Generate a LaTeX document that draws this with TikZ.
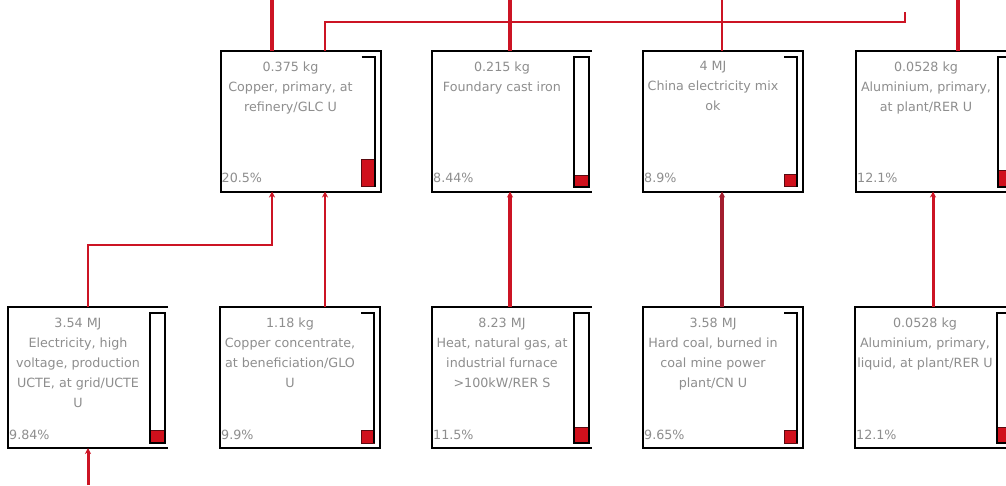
\documentclass[tikz,border=0pt]{standalone}
\usepackage{fontspec}
\newfontfamily\lbfont{DejaVu Sans}
\usetikzlibrary{calc,arrows.meta}
\definecolor{txtgray}{HTML}{8E8E8E}
\definecolor{flowred}{HTML}{CC1424}
\definecolor{flowdark}{HTML}{A31D2E}
\definecolor{barred}{HTML}{D0101C}
\definecolor{barline}{HTML}{5A0A10}
\newcommand{\lbf}{\lbfont\fontsize{12.7}{20}\selectfont}
\tikzset{
  pbx/.style={draw=none, fill=white, minimum width=160pt, minimum height=141pt, inner sep=0pt, outer sep=0pt},
  edge/.style={draw=black, line width=2pt},
  redfill/.style={fill=barred, draw=barline, line width=1pt},
  lbl/.style={text=txtgray, font=\lbf, align=center, inner sep=0pt, anchor=north},
  pct/.style={text=txtgray, font=\lbf, inner sep=0pt, anchor=base west},
  fl/.style={draw=flowred, line width=#1},
  fla/.style={draw=flowred, line width=#1, -{Stealth[length=6pt,width=6pt]}},
  fld/.style={draw=flowdark, line width=#1, -{Stealth[length=6pt,width=6pt]}},
}
% #1 name, #2 cx, #3 cy, #4 text, #5 percent, #6 fraction, #7 type (1 full bar, 0 bracket bar)
\newcommand{\pbox}[7]{%
  \node[pbx] (#1) at (#2,#3) {};
  \pgfmathsetmacro\redh{#6*131}%
  \ifnum#7=1
    \draw[edge] (#1.north east) -- (#1.north west) -- (#1.south west) -- (#1.south east);
    \draw[redfill] ($(#1.south east)+(-18,-5)$) rectangle ($(#1.south east)+(-3,{-5-\redh})$);
    \draw[edge] ($(#1.north east)+(-18,6)$) rectangle ($(#1.south east)+(-3,-5)$);
  \else
    \draw[edge] (#1.north west) rectangle (#1.south east);
    \draw[redfill] ($(#1.south east)+(-19,-5)$) rectangle ($(#1.south east)+(-6,{-5-\redh})$);
    \draw[edge] ($(#1.north east)+(-19,6)$) -- ($(#1.north east)+(-6,6)$) -- ($(#1.south east)+(-6,-5)$);
  \fi
  \node[lbl] (#1t) at ($(#1.north west)+(70,11)$) {#4};
  \node[pct] (#1p) at ($(#1.south west)+(1,-9)$) {#5};
}
\begin{document}
\begin{tikzpicture}[x=1pt,y=-1pt]
\useasboundingbox (0,0) rectangle (1006,485);
\clip (0,0) rectangle (1006,485);
\fill[white] (0,0) rectangle (1006,485);

% top row
\pbox{T1}{300.5}{121}{0.375 kg\\Copper, primary, at\\refinery/GLC U}{20.5\%}{0.205}{0}
\pbox{T2}{512}{121}{0.215 kg\\Foundary cast iron}{8.44\%}{0.0844}{1}
\pbox{T3}{723}{121}{4 MJ\\China electricity mix\\ok}{8.9\%}{0.089}{0}
\pbox{T4}{936}{121}{0.0528 kg\\Aluminium, primary,\\at plant/RER U}{12.1\%}{0.121}{1}
% bottom row
\pbox{B1}{88}{377.5}{3.54 MJ\\Electricity, high\\voltage, production\\UCTE, at grid/UCTE\\U}{9.84\%}{0.0984}{1}
\pbox{B2}{300}{377.5}{1.18 kg\\Copper concentrate,\\at beneficiation/GLO\\U}{9.9\%}{0.099}{0}
\pbox{B3}{512}{377.5}{8.23 MJ\\Heat, natural gas, at\\industrial furnace\\>100kW/RER S}{11.5\%}{0.115}{1}
\pbox{B4}{723}{377.5}{3.58 MJ\\Hard coal, burned in\\coal mine power\\plant/CN U}{9.65\%}{0.0965}{0}
\pbox{B5}{935}{377.5}{0.0528 kg\\Aluminium, primary,\\liquid, at plant/RER U}{12.1\%}{0.121}{1}

% connector coordinates
\coordinate (xa) at (272,0);
\coordinate (xb) at (325,22);
\coordinate (xc) at (510,0);
\coordinate (xd) at (722,0);
\coordinate (xe) at (958,0);
\coordinate (xf) at (933,0);
\coordinate (hc) at (905,12);
\coordinate (m1) at (88,245);
\coordinate (bot) at (88,485);

% flows leaving the top row upwards
\draw[fl=4] (T1.north -| xa) -- (xa);
\draw[fl=2] (T1.north -| xb) -- (xb) -- (xb -| hc) -- (hc);
\draw[fl=4] (T2.north -| xc) -- (xc);
\draw[fl=2.5] (T3.north -| xd) -- (xd);
\draw[fl=3.5] (T4.north -| xe) -- (xe);

% flows between rows
\draw[fla=2] (B1.north) -- (m1) -- (m1 -| xa) -- (xa |- T1.south);
\draw[fla=2] (B2.north -| xb) -- (xb |- T1.south);
\draw[fla=3.5] (B3.north -| xc) -- (xc |- T2.south);
\draw[fld=3.5] (B4.north -| xd) -- (xd |- T3.south);
\draw[fla=3] (B5.north -| xf) -- (xf |- T4.south);

% flow into bottom-left box from below
\draw[fla=3] (bot) -- (B1.south);
\end{tikzpicture}
\end{document}
